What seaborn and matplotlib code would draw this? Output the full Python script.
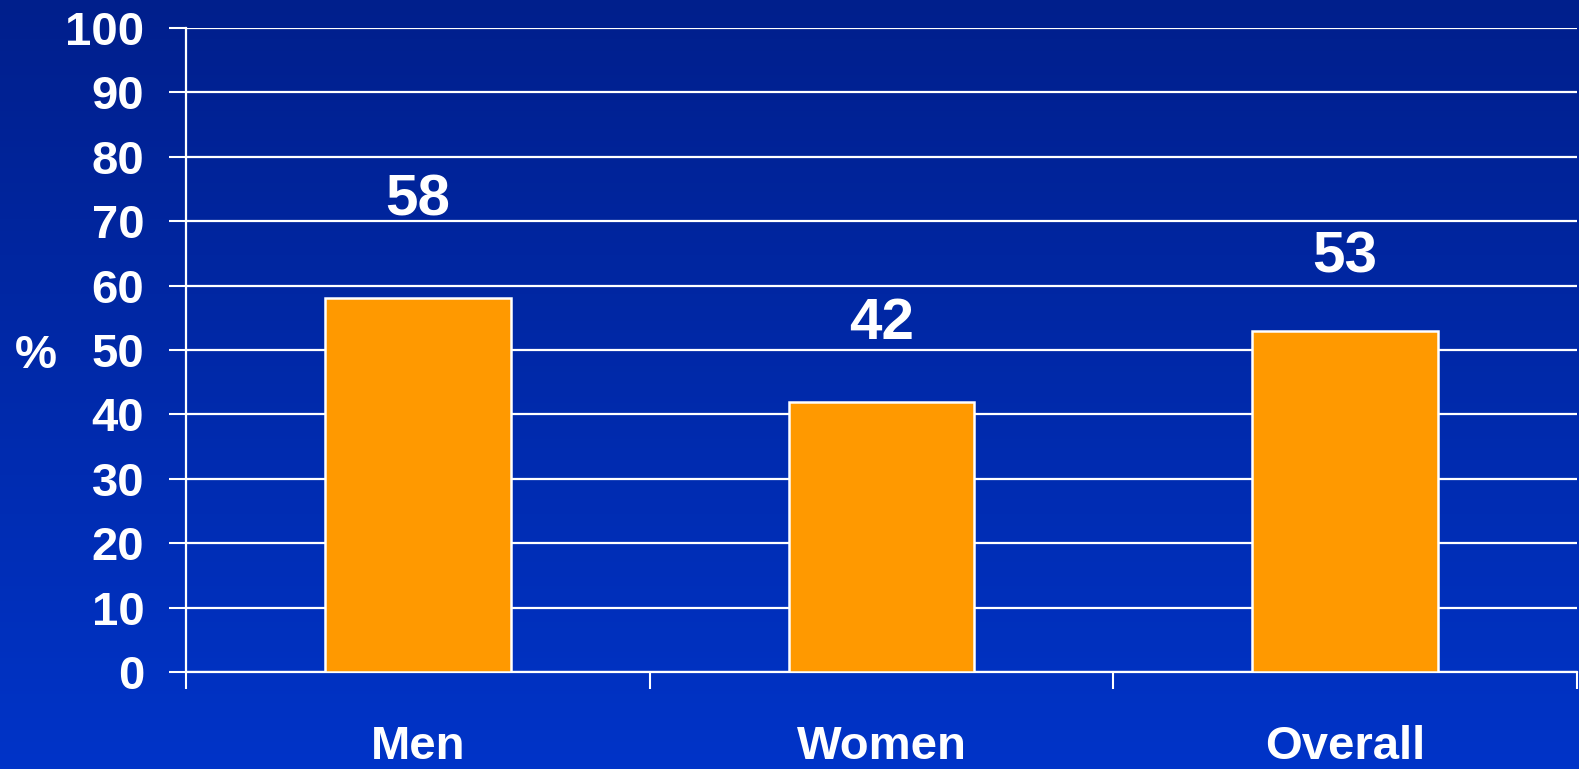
import numpy as np
import matplotlib
matplotlib.use("Agg")
import matplotlib.pyplot as plt
from matplotlib.colors import LinearSegmentedColormap
import seaborn as sns

# Share of respondents by group (%)
categories = ["Men", "Women", "Overall"]
values = [58, 42, 53]
label_offsets = [15.2, 12.0, 11.4]
y_ticks = [0, 10, 20, 30, 40, 50, 60, 70, 80, 90, 100]

sns.set_theme(style="white")
plt.rcParams["font.family"] = ["Liberation Sans", "DejaVu Sans"]
plt.rcParams["font.weight"] = "bold"

W, H, DPI = 1579, 769, 100
fig = plt.figure(figsize=(W / DPI, H / DPI), dpi=DPI)

# vertical blue gradient backdrop
bg = fig.add_axes([0, 0, 1, 1], zorder=0)
grad = np.linspace(0, 1, 256).reshape(-1, 1)
cmap = LinearSegmentedColormap.from_list("bg", ["#001F8C", "#0034C8"])
bg.imshow(grad, aspect="auto", cmap=cmap, extent=[0, 1, 1, 0])
bg.set_axis_off()

left, right, bottom, top = 186 / W, 1577 / W, (H - 672) / H, (H - 28) / H
ax = fig.add_axes([left, bottom, right - left, top - bottom], zorder=1)
ax.set_facecolor("none")

sns.barplot(x=categories, y=values, color="#FF9900", edgecolor="white",
            linewidth=1.8, width=0.4, saturation=1, ax=ax, zorder=3)

ax.set_ylim(0, 100)
ax.set_xlim(-0.5, 2.5)
ax.set_yticks(y_ticks)
ax.set_yticklabels([str(t) for t in y_ticks])
ax.yaxis.grid(True, color="white", linewidth=1.6, zorder=1)
ax.set_axisbelow(True)

# category boundary ticks below the axis, names centred under the bars
ax.set_xticks([-0.5, 0.5, 1.5, 2.5])
ax.set_xticklabels([])
ax.set_xticks([0, 1, 2], minor=True)
ax.set_xticklabels(categories, minor=True)
ax.tick_params(axis="x", which="major", bottom=True, direction="out",
               length=12, width=1.5, color="white")
ax.tick_params(axis="x", which="minor", bottom=True, length=0, pad=38,
               labelsize=34, labelcolor="white")
ax.tick_params(axis="y", left=True, direction="out", length=12, width=1.5,
               color="white", pad=18, labelsize=34, labelcolor="white")
for lbl in ax.get_xticklabels(minor=True) + ax.get_yticklabels():
    lbl.set_fontweight("bold")

for side in ("top", "right"):
    ax.spines[side].set_visible(False)
for side in ("left", "bottom"):
    ax.spines[side].set_color("white")
    ax.spines[side].set_linewidth(1.6)

ax.set_xlabel("")
ax.set_ylabel("%", rotation=0, fontsize=34, fontweight="bold",
              color="white", labelpad=0, va="center", ha="center")
ax.yaxis.set_label_coords(-150 / (1577 - 186), 0.49)

for i, (v, off) in enumerate(zip(values, label_offsets)):
    ax.text(i, v + off, f"{v}", ha="center", va="center", fontsize=42,
            fontweight="bold", color="white", zorder=4)

fig.savefig("out.png", dpi=DPI)
